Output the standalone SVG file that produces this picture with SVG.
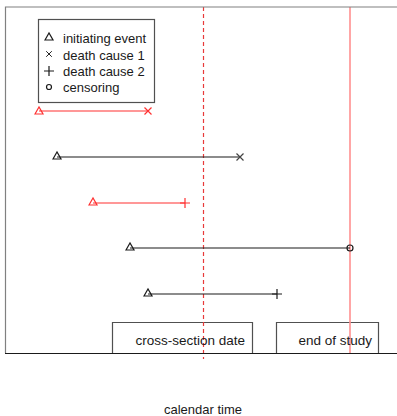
<svg xmlns="http://www.w3.org/2000/svg" width="397" height="416" viewBox="0 0 397 416">
<style>
text{font-family:"Liberation Sans",Arial,sans-serif;font-size:13px;fill:#1a1a1a}
.big{font-size:13.5px}
.seg{stroke:#1a1a1a;stroke-width:1.2;fill:none}
.red{stroke:#ff3030}
.sym{fill:none;stroke-width:1.2}
.box{fill:#fff;stroke:#505050;stroke-width:1.2}
</style>
<defs>
<path id="tri" d="M-4,3 L0,-4 L4,3 Z"/>
<path id="cross" d="M-3.5,-3.5 L3.5,3.5 M-3.5,3.5 L3.5,-3.5"/>
<path id="plus" d="M-5,0 L5,0 M0,-5 L0,5"/>
</defs>
<rect width="397" height="416" fill="#fff"/>
<g id="reference-lines">
<line x1="203.5" y1="7" x2="203.5" y2="359" stroke="#e83a3a" stroke-width="1.2" stroke-dasharray="4,3"/>
<line x1="350" y1="7" x2="350" y2="353" stroke="#ff9090" stroke-width="1.6"/>
</g>
<g id="frame">
<path d="M5.5,353 L5.5,7 L397,7" fill="none" stroke="#808080" stroke-width="1.2"/>
<line x1="5" y1="353.5" x2="397" y2="353.5" stroke="#1a1a1a" stroke-width="1.2"/>
</g>
<g id="connectors">
<line class="seg red" x1="39" y1="111" x2="148" y2="111"/>
<line class="seg" x1="57" y1="157" x2="240" y2="157"/>
<line class="seg red" x1="93" y1="203" x2="185" y2="203"/>
<line class="seg" x1="130" y1="248" x2="350" y2="248"/>
<line class="seg" x1="148" y1="294" x2="277" y2="294"/>
</g>
<g id="subject1">
<use href="#tri" x="39" y="111" class="sym" stroke="#ff3030"/>
<use href="#cross" x="148" y="111" class="sym" stroke="#ff3030"/>
</g>
<g id="subject2">
<use href="#tri" x="57" y="156" class="sym" stroke="#1a1a1a"/>
<use href="#cross" x="240" y="157" class="sym" stroke="#444"/>
</g>
<g id="subject3">
<use href="#tri" x="93" y="202" class="sym" stroke="#ff3030"/>
<use href="#plus" x="185" y="203" class="sym" stroke="#ff3030"/>
</g>
<g id="subject4">
<use href="#tri" x="130" y="247" class="sym" stroke="#1a1a1a"/>
<circle cx="350" cy="248" r="3" class="sym" stroke="#1a1a1a"/>
</g>
<g id="subject5">
<use href="#tri" x="148" y="293" class="sym" stroke="#1a1a1a"/>
<use href="#plus" x="277" y="294" class="sym" stroke="#1a1a1a"/>
</g>
<g id="legend">
<rect x="38.5" y="19.5" width="116" height="83" fill="#fff" stroke="#505050" stroke-width="1.2"/>
<use href="#tri" x="49" y="37" class="sym" stroke="#1a1a1a"/>
<use href="#cross" x="49" y="54" class="sym" stroke="#1a1a1a" transform="translate(49,54) scale(0.8) translate(-49,-54)"/>
<use href="#plus" x="49" y="71" class="sym" stroke="#1a1a1a"/>
<circle cx="49" cy="87" r="2.5" class="sym" stroke="#1a1a1a"/>
<text x="63" y="43">initiating event</text>
<text x="63" y="60">death cause 1</text>
<text x="63" y="76">death cause 2</text>
<text x="63" y="92">censoring</text>
</g>
<g id="cross-section-date">
<path class="box" d="M112.5,353 L112.5,322.5 L252.5,322.5 L252.5,353"/>
<line x1="203.5" y1="322" x2="203.5" y2="353" stroke="#e83a3a" stroke-width="1.2" stroke-dasharray="4,3"/>
<text class="big" x="245" y="345" text-anchor="end">cross-section date</text>
</g>
<g id="end-of-study">
<path class="box" d="M276.5,353 L276.5,322.5 L378.5,322.5 L378.5,353"/>
<line x1="350" y1="322" x2="350" y2="353" stroke="#ff9090" stroke-width="1.6"/>
<text class="big" x="372" y="345" text-anchor="end">end of study</text>
</g>
<g id="axis-label">
<text x="203" y="414" text-anchor="middle">calendar time</text>
</g>
</svg>
